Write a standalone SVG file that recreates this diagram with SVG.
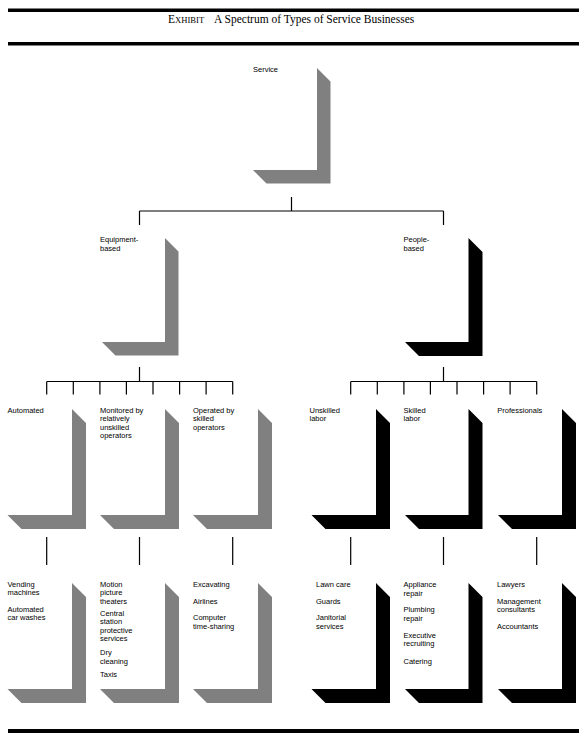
<svg xmlns="http://www.w3.org/2000/svg" width="585" height="737" viewBox="0 0 585 737">
<style>
.t{font-family:"Liberation Sans",Arial,sans-serif;font-size:7.5px;fill:#000}
.title{font-family:"Liberation Serif","Times New Roman",serif;font-size:11.5px;fill:#000}
.g{fill:#808080}
.k{fill:#000}
.rule{fill:#000}
.c{stroke:#000;stroke-width:1.2;fill:none}
</style>
<rect x="0" y="0" width="585" height="737" fill="#fff"/>
<g id="header">
<rect class="rule" x="8" y="8.5" width="571" height="3.5"/>
<text class="title" x="168" y="23">E<tspan font-size="8.6">XHIBIT</tspan><tspan x="214">A Spectrum of Types of Service Businesses</tspan></text>
<rect class="rule" x="8" y="42" width="571" height="3.5"/>
</g>
<g id="connectors">
<path class="c" d="M291.5,197V211M139.5,211H443.5M139.5,211V225M443.5,211V225"/>
<path class="c" d="M139.5,367V381.5M46.7,381.5H232.7M46.7,381.5V394.5M73.3,381.5V394.5M99.9,381.5V394.5M126.4,381.5V394.5M153,381.5V394.5M179.6,381.5V394.5M206.1,381.5V394.5M232.7,381.5V394.5"/>
<path class="c" d="M443.5,367V381.5M350.7,381.5H536.7M350.7,381.5V394.5M377.3,381.5V394.5M403.9,381.5V394.5M430.4,381.5V394.5M457,381.5V394.5M483.6,381.5V394.5M510.1,381.5V394.5M536.7,381.5V394.5"/>
<path class="c" d="M46.7,537V565M139.5,537V565M232.7,537V565M350.7,537V565M443.5,537V565M536.7,537V565"/>
</g>
<g id="service">
<polygon class="g" points="317,68 330.5,81.5 330.5,183.5 266.5,183.5 253,170 317,170"/>
<text class="t" x="253" y="71.7">Service</text>
</g>
<g id="equipment-based">
<polygon class="g" points="165,238 178.5,251.5 178.5,355.5 115.5,355.5 102,342 165,342"/>
<text class="t"><tspan x="100" y="241.7">Equipment-</tspan><tspan x="100" y="250.5">based</tspan></text>
</g>
<g id="people-based">
<polygon class="k" points="468.5,238 482.5,252 482.5,356 419,356 405,342 468.5,342"/>
<text class="t"><tspan x="403.5" y="241.7">People-</tspan><tspan x="403.5" y="250.5">based</tspan></text>
</g>
<g id="automated">
<polygon class="g" points="72,409 86,423 86,529 21.5,529 7.5,515 72,515"/>
<text class="t" x="7.5" y="413">Automated</text>
</g>
<g id="monitored">
<polygon class="g" points="165,409 179,423 179,529 114,529 100,515 165,515"/>
<text class="t"><tspan x="100" y="413">Monitored by</tspan><tspan x="100" y="421.4">relatively</tspan><tspan x="100" y="429.8">unskilled</tspan><tspan x="100" y="438.2">operators</tspan></text>
</g>
<g id="operated">
<polygon class="g" points="258,409 272,423 272,529 207,529 193,515 258,515"/>
<text class="t"><tspan x="193" y="413">Operated by</tspan><tspan x="193" y="421.4">skilled</tspan><tspan x="193" y="429.8">operators</tspan></text>
</g>
<g id="unskilled">
<polygon class="k" points="376,409 390,423 390,529 325.5,529 311.5,515 376,515"/>
<text class="t"><tspan x="309.5" y="413">Unskilled</tspan><tspan x="309.5" y="421.4">labor</tspan></text>
</g>
<g id="skilled">
<polygon class="k" points="468.5,409 482.5,423 482.5,529 419,529 405,515 468.5,515"/>
<text class="t"><tspan x="403.5" y="413">Skilled</tspan><tspan x="403.5" y="421.4">labor</tspan></text>
</g>
<g id="professionals">
<polygon class="k" points="562,409 576,423 576,529 512,529 498,515 562,515"/>
<text class="t" x="497.3" y="413">Professionals</text>
</g>
<g id="automated-examples">
<polygon class="g" points="72,583 86,597 86,703 21.5,703 7.5,689 72,689"/>
<text class="t"><tspan x="7.5" y="586.5">Vending</tspan><tspan x="7.5" y="595">machines</tspan><tspan x="7.5" y="611.5">Automated</tspan><tspan x="7.5" y="620">car washes</tspan></text>
</g>
<g id="monitored-examples">
<polygon class="g" points="165,583 179,597 179,703 114,703 100,689 165,689"/>
<text class="t"><tspan x="100" y="587">Motion</tspan><tspan x="100" y="595.3">picture</tspan><tspan x="100" y="603.5">theaters</tspan><tspan x="100" y="616">Central</tspan><tspan x="100" y="624.2">station</tspan><tspan x="100" y="632.5">protective</tspan><tspan x="100" y="641">services</tspan><tspan x="100" y="655">Dry</tspan><tspan x="100" y="663.5">cleaning</tspan><tspan x="100" y="676.5">Taxis</tspan></text>
</g>
<g id="operated-examples">
<polygon class="g" points="258,583 272,597 272,703 207,703 193,689 258,689"/>
<text class="t"><tspan x="193" y="587">Excavating</tspan><tspan x="193" y="603.5">Airlines</tspan><tspan x="193" y="620">Computer</tspan><tspan x="193" y="628.5">time-sharing</tspan></text>
</g>
<g id="unskilled-examples">
<polygon class="k" points="376,583 390,597 390,703 325.5,703 311.5,689 376,689"/>
<text class="t"><tspan x="316" y="587">Lawn care</tspan><tspan x="316" y="603.5">Guards</tspan><tspan x="316" y="620">Janitorial</tspan><tspan x="316" y="628.5">services</tspan></text>
</g>
<g id="skilled-examples">
<polygon class="k" points="468.5,583 482.5,597 482.5,703 419,703 405,689 468.5,689"/>
<text class="t"><tspan x="403.5" y="587">Appliance</tspan><tspan x="403.5" y="595.5">repair</tspan><tspan x="403.5" y="612">Plumbing</tspan><tspan x="403.5" y="620.5">repair</tspan><tspan x="403.5" y="637.5">Executive</tspan><tspan x="403.5" y="646">recruiting</tspan><tspan x="403.5" y="664">Catering</tspan></text>
</g>
<g id="professionals-examples">
<polygon class="k" points="562,583 576,597 576,703 512,703 498,689 562,689"/>
<text class="t"><tspan x="497" y="587">Lawyers</tspan><tspan x="497" y="603.5">Management</tspan><tspan x="497" y="612">consultants</tspan><tspan x="497" y="629">Accountants</tspan></text>
</g>
<g id="footer">
<rect class="rule" x="8" y="729" width="571" height="4"/>
</g>
</svg>
